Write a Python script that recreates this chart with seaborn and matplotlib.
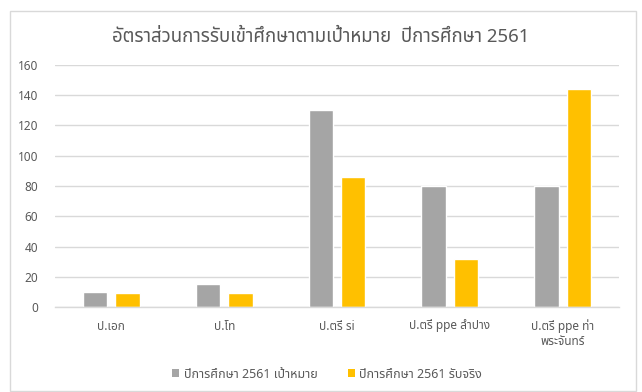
import matplotlib
matplotlib.use("Agg")
import matplotlib.pyplot as plt
from matplotlib import font_manager
from matplotlib.ft2font import FT2Font
from matplotlib.patches import Rectangle, Patch
import seaborn as sns
import pandas as pd

# Chart data
categories = ["ป.เอก", "ป.โท", "ป.ตรี si", "ป.ตรี ppe ลำปาง", "ป.ตรี ppe ท่า\nพระจันทร์"]
series_names = ["ปีการศึกษา 2561 เป้าหมาย", "ปีการศึกษา 2561 รับจริง"]
target_values = [10, 15, 130, 80, 80]
actual_values = [9, 9, 86, 32, 144]
y_ticks = [0, 20, 40, 60, 80, 100, 120, 140, 160]
title_text = "อัตราส่วนการรับเข้าศึกษาตามเป้าหมาย  ปีการศึกษา 2561"

colors = ["#A5A5A5", "#FFC000"]
text_color = "#595959"
grid_color = "#D9D9D9"


def find_thai_font():
    """Return the name of an installed font that covers Thai script."""
    preferred = ["Leelawadee UI", "Leelawadee", "Noto Sans Thai", "Noto Sans Thai UI",
                 "Tahoma", "Loma", "Garuda", "Sarabun", "TH Sarabun New"]
    found = {}
    for entry in font_manager.fontManager.ttflist:
        try:
            cmap = FT2Font(entry.fname).get_charmap()
        except Exception:
            continue
        if 0x0E01 in cmap and 0x0E35 in cmap and 0x0E48 in cmap:
            found.setdefault(entry.name, entry.fname)
    for name in preferred:
        if name in found:
            return name
    return next(iter(found), None)


sns.set_theme(style="white")
thai_font = find_thai_font()
families = ([thai_font] if thai_font else []) + ["DejaVu Sans"]
plt.rcParams["font.family"] = families

df = pd.DataFrame({
    "category": categories * 2,
    "series": [series_names[0]] * len(categories) + [series_names[1]] * len(categories),
    "value": target_values + actual_values,
})

fig = plt.figure(figsize=(6.42, 3.92), dpi=100)
ax = fig.add_axes([55 / 642, 1 - 307 / 392, (619 - 55) / 642, (307 - 65) / 392])

sns.barplot(data=df, x="category", y="value", hue="series", order=categories,
            hue_order=series_names, palette=colors, width=0.574, gap=0.244,
            saturation=1, ax=ax, legend=False)

ax.set_ylim(0, 160)
ax.set_yticks(y_ticks)
ax.set_xlim(-0.5, len(categories) - 0.5)
ax.yaxis.grid(True, color=grid_color, linewidth=1)
ax.set_axisbelow(True)
for side in ["left", "right", "top"]:
    ax.spines[side].set_visible(False)
ax.spines["bottom"].set_color(grid_color)
ax.spines["bottom"].set_linewidth(1)
ax.tick_params(axis="both", length=0, labelsize=8.5, colors=text_color)
ax.tick_params(axis="y", pad=12)
ax.tick_params(axis="x", pad=9)
ax.set_xlabel("")
ax.set_ylabel("")

fig.text(0.5, 1 - 37 / 392, title_text, ha="center", va="center",
         fontsize=13.4, color=text_color)

handles = [Patch(facecolor=c, edgecolor="none") for c in colors]
fig.legend(handles, series_names, loc="center", bbox_to_anchor=(327 / 642, 1 - 374 / 392),
           ncol=2, frameon=False, fontsize=9, labelcolor=text_color,
           handlelength=0.6, handleheight=0.6, handletextpad=0.35, columnspacing=2.4)

# Outer chart border
fig.add_artist(Rectangle((10 / 642, 1 - 391 / 392), 626 / 642, 380 / 392,
                         transform=fig.transFigure, fill=False,
                         edgecolor=grid_color, linewidth=1))

fig.savefig("out.png", dpi=100)
